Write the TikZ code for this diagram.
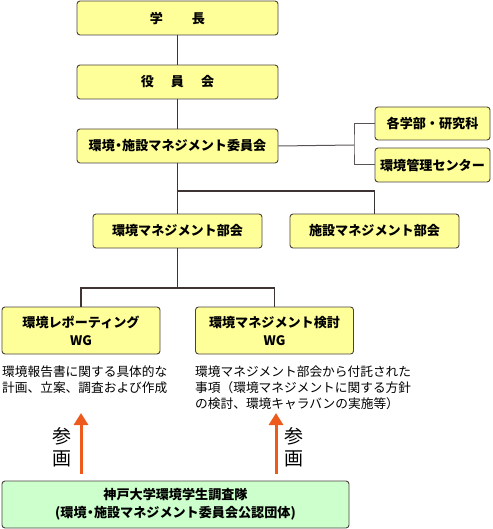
\documentclass[tikz,border=0pt]{standalone}
\usepackage{fontspec}
\setmainfont{Noto Sans CJK JP}
\usetikzlibrary{arrows.meta}
\definecolor{boxfill}{HTML}{FFFF99}
\definecolor{greenfill}{HTML}{CCFFCC}
\definecolor{boxline}{HTML}{4A4040}
\definecolor{conn}{HTML}{3E3434}
\definecolor{connlight}{HTML}{5A5555}
\definecolor{arrowc}{HTML}{EE5A1C}
\newcommand{\narrowdot}{\hspace{-0.22em}・\hspace{-0.22em}}
\tikzset{
  orgbox/.style={draw=boxline, line width=0.9pt, fill=boxfill, rounded corners=3pt,
    inner sep=0pt, align=center, font=\fontsize{13.1}{18}\selectfont\bfseries},
  greenbox/.style={orgbox, fill=greenfill},
  link/.style={draw=conn, line width=1.3pt},
  linklight/.style={draw=connlight, line width=1pt},
  uparrow/.style={draw=arrowc, line width=3pt, -{Triangle[width=14pt,length=12pt]}},
  desc/.style={inner sep=0pt, anchor=north west, align=left, font=\fontsize{12.7}{16}\selectfont},
  sanka/.style={inner sep=0pt, align=center, font=\fontsize{19}{22}\selectfont}
}
\begin{document}
\begin{tikzpicture}[x=1pt,y=-1pt]
\useasboundingbox (0,0) rectangle (492,529);
% boxes
\node[orgbox, minimum width=201pt, minimum height=34pt] (chief) at (177.5,18) {学\hspace{2.2em}長};
\node[orgbox, minimum width=201pt, minimum height=34pt] (board) at (177.5,82) {役\hspace{1.3em}員\hspace{1.3em}会};
\node[orgbox, minimum width=201pt, minimum height=34pt] (comm) at (177.5,146) {環境\narrowdot 施設マネジメント委員会};
\node[orgbox, minimum width=115pt, minimum height=33pt] (fac) at (432.5,123.5) {各学部・研究科};
\node[orgbox, minimum width=115pt, minimum height=34pt] (ctr) at (432.5,165) {環境管理センター};
\node[orgbox, minimum width=169pt, minimum height=34pt] (envm) at (177.5,231) {環境マネジメント部会};
\node[orgbox, minimum width=169pt, minimum height=34pt] (facm) at (374.5,231) {施設マネジメント部会};
\node[orgbox, minimum width=158pt, minimum height=47pt] (wga) at (81,330.5) {環境レポーティング\\WG};
\node[orgbox, minimum width=158pt, minimum height=47pt] (wgb) at (274.5,330.5) {環境マネジメント検討\\WG};
\node[greenbox, minimum width=347pt, minimum height=47pt] (stud) at (175.5,504.5) {神戸大学環境学生調査隊\\(環境\narrowdot 施設マネジメント委員会公認団体)};
% descriptions
\node[desc] (desca) at (2,366) {環境報告書に関する具体的な\\計画、立案、調査および作成};
\node[desc] (descb) at (195,366) {環境マネジメント部会から付託された\\事項（環境マネジメントに関する方針\\の検討、環境キャラバンの実施等）};
% connectors
\coordinate (b1) at (354,145);
\coordinate (b2) at (177.5,191);
\coordinate (b3) at (177.5,288);
\draw[link] (chief.south) -- (board.north);
\draw[link] (board.south) -- (comm.north);
\draw[linklight] (comm.east) -- (b1);
\draw[linklight] (fac.west) -| (b1) |- (ctr.west);
\draw[link] (comm.south) -- (envm.north);
\draw[link] (b2) -| (facm.north);
\draw[link] (envm.south) -- (b3);
\draw[link] (wga.north) |- (b3) -| (wgb.north);
% arrows
\coordinate (a1s) at (81,474);
\coordinate (a1e) at (81,413);
\coordinate (a2s) at (276,474);
\coordinate (a2e) at (276,413);
\draw[uparrow] (a1s) -- (a1e);
\draw[uparrow] (a2s) -- (a2e);
\node[sanka] (sa) at (62,447.5) {参\\画};
\node[sanka] (sb) at (293.5,447.5) {参\\画};
\end{tikzpicture}
\end{document}
